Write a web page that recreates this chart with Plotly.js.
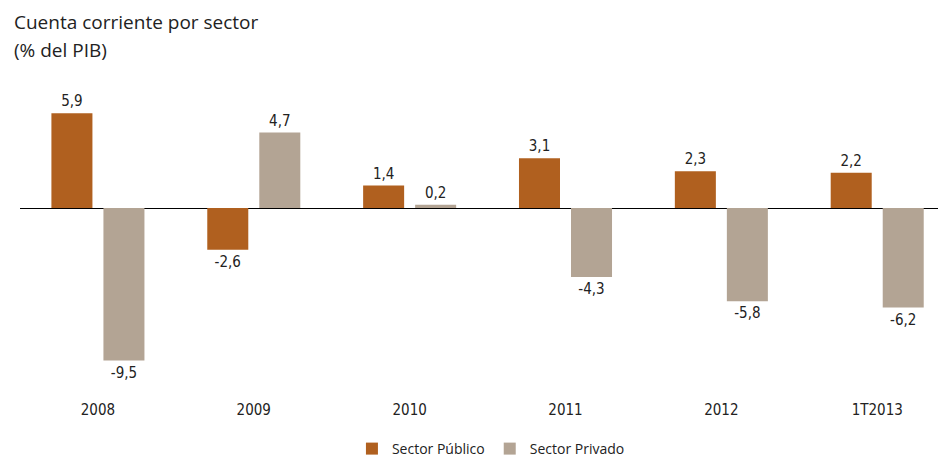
<!DOCTYPE html>
<html>
<head>
<meta charset="utf-8">
<script src="https://cdn.plot.ly/plotly-3.0.1.min.js"></script>
<style>html,body{margin:0;padding:0;background:#fff;}#chart{width:938px;height:458px;}</style>
</head>
<body>
<div id="chart"></div>
<script>
const categories = ["2008", "2009", "2010", "2011", "2012", "1T2013"];
const sectorPublico = [5.9, -2.6, 1.4, 3.1, 2.3, 2.2];
const sectorPrivado = [-9.5, 4.7, 0.2, -4.3, -5.8, -6.2];
const seriesNames = ["Sector Público", "Sector Privado"];
const titleLines = ["Cuenta corriente por sector", "(% del PIB)"];

const numFont = "Liberation Sans Narrow, DejaVu Sans Condensed, Roboto Condensed, Arial Narrow, sans-serif";
const txtFont = "Open Sans, Noto Sans, sans-serif";
const orange = "#B0601F";
const grey = "#B3A494";

const traces = [
  {
    type: "bar", name: seriesNames[0], x: categories, y: sectorPublico,
    marker: {color: orange},
    texttemplate: "%{y:.1f}", textposition: "outside", cliponaxis: false,
    textfont: {family: numFont, size: 15, color: "#222"},
    hoverinfo: "skip"
  },
  {
    type: "bar", name: seriesNames[1], x: categories, y: sectorPrivado,
    marker: {color: grey},
    texttemplate: "%{y:.1f}", textposition: "outside", cliponaxis: false,
    textfont: {family: numFont, size: 15, color: "#222"},
    hoverinfo: "skip"
  }
];

const layout = {
  width: 938, height: 458,
  margin: {l: 20, r: 0, t: 70, b: 66},
  paper_bgcolor: "#fff", plot_bgcolor: "#fff",
  separators: ",.",
  barmode: "group", bargap: 0.3325, bargroupgap: 0.2115,
  showlegend: true,
  annotations: [
    {text: titleLines[0], xref: "paper", yref: "paper", x: -8/918, y: (392-22)/322,
     xanchor: "left", yanchor: "middle", showarrow: false,
     font: {family: txtFont, size: 19, color: "#222"}},
    {text: titleLines[1], xref: "paper", yref: "paper", x: -8/918, y: (392-50)/322,
     xanchor: "left", yanchor: "middle", showarrow: false,
     font: {family: txtFont, size: 19, color: "#222"}}
  ],
  xaxis: {
    type: "category", range: [-0.5, 5.39],
    showline: false, showgrid: false, zeroline: false,
    ticks: "outside", ticklen: 4, tickcolor: "rgba(0,0,0,0)",
    tickfont: {family: numFont, size: 15, color: "#222"}
  },
  yaxis: {
    range: [-11.46, 8.6],
    showgrid: false, showticklabels: false, showline: false,
    zeroline: true, zerolinecolor: "#000", zerolinewidth: 1
  },
  legend: {
    orientation: "h", x: 0.513, xanchor: "center",
    yref: "container", y: 1 - 449/458, yanchor: "middle",
    font: {family: txtFont, size: 14, color: "#222"},
    itemclick: false, itemdoubleclick: false
  },
  hovermode: false
};

Plotly.newPlot("chart", traces, layout, {displayModeBar: false, staticPlot: true});
</script>
</body>
</html>
